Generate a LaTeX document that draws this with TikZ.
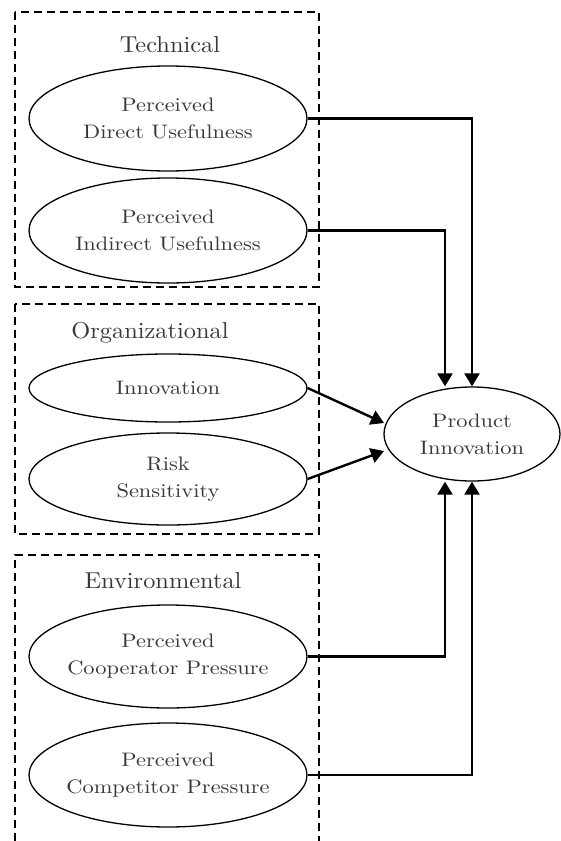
\documentclass[tikz,border=0pt]{standalone}
\usepackage{fontspec}
\newfontfamily\varfont{lmroman10-regular}[Extension=.otf,FakeStretch=1.15]
\newfontfamily\lblfont{lmroman10-regular}[Extension=.otf,FakeStretch=1.06]
\usetikzlibrary{shapes.geometric,arrows.meta}
\begin{document}
\begin{tikzpicture}[x=1pt,y=-1pt,
  grp/.style={draw,line width=1.3pt,dash pattern=on 8pt off 5pt},
  var/.style={draw,ellipse,line width=1.3pt,inner xsep=-60pt,inner ysep=-30pt,align=center,font=\varfont\fontsize{19.5}{27}\selectfont,text=black!78},
  lbl/.style={font=\lblfont\fontsize{23}{26}\selectfont,text=black!78},
  conn/.style={line width=2.4pt,-{Triangle[length=13pt,width=15pt]}}]
\useasboundingbox (0,0) rectangle (561,841);
% group boxes
\draw[grp] (15,12) rectangle (319,287);
\draw[grp] (15,304) rectangle (319,534);
\draw[grp] (15,841) -- (15,555) -- (319,555) -- (319,841);
% group labels
\node[lbl] (ltech) at (170,45) {Technical};
\node[lbl] (lorg) at (150,333) {Organizational};
\node[lbl] (lenv) at (163,581) {Environmental};
% variables
\node[var,minimum width=278pt,minimum height=105pt] (pdu) at (168,118.5) {Perceived\\Direct Usefulness};
\node[var,minimum width=278pt,minimum height=105pt] (piu) at (168,230.5) {Perceived\\Indirect Usefulness};
\node[var,minimum width=278pt,minimum height=68pt] (inn) at (168,388) {Innovation};
\node[var,minimum width=278pt,minimum height=92pt] (risk) at (168,479) {Risk\\Sensitivity};
\node[var,minimum width=278pt,minimum height=103pt] (coop) at (168,656.5) {Perceived\\Cooperator Pressure};
\node[var,minimum width=278pt,minimum height=104pt] (comp) at (168,775) {Perceived\\Competitor Pressure};
\node[var,minimum width=176pt,minimum height=94pt] (pi) at (472,434) {Product\\Innovation};
% connectors
\draw[conn] (pdu.east) -| (pi.north);
\draw[conn] (piu.east) -| (pi.north -| 445,0);
\draw[conn] (inn.east) -- (384,423);
\draw[conn] (risk.east) -- (384,451);
\draw[conn] (coop.east) -| (pi.south -| 445,0);
\draw[conn] (comp.east) -| (pi.south);
\end{tikzpicture}
\end{document}
